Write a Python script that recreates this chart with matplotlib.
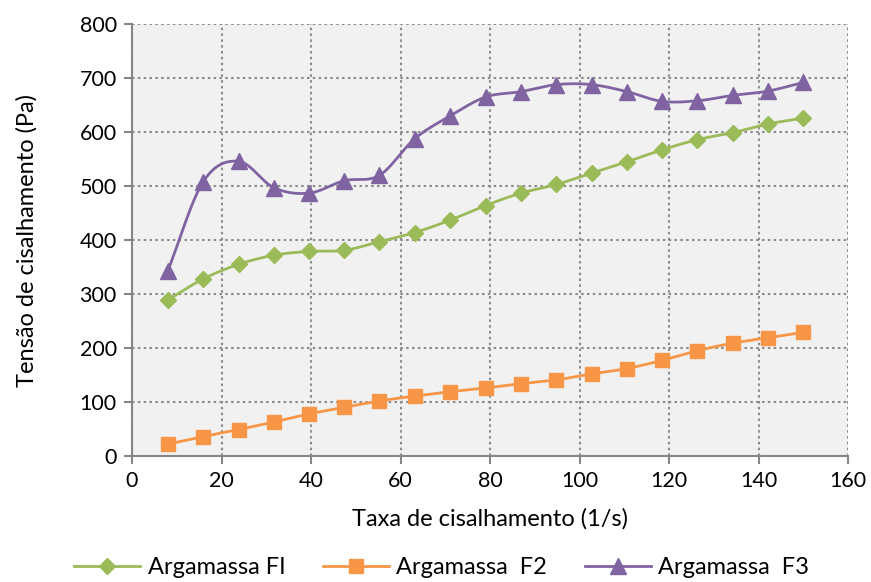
import numpy as np
import matplotlib
matplotlib.use("Agg")
import matplotlib.pyplot as plt

plt.rcParams['font.family'] = ['Lato', 'DejaVu Sans']

taxa = [8, 15.9, 23.8, 31.7, 39.6, 47.4, 55.3, 63.2, 71.1, 79, 86.9, 94.8,
        102.7, 110.6, 118.4, 126.3, 134.2, 142.1, 150]
f1 = [289, 328, 355, 372, 379, 381, 397, 414, 437, 464, 487, 503, 524, 545,
      567, 586, 599, 615, 626]
f2 = [22, 36, 49, 63, 78, 90, 102, 111, 119, 126, 134, 141, 152, 162, 177,
      195, 209, 219, 229]
f3 = [343, 508, 546, 497, 487, 510, 520, 588, 630, 665, 675, 688, 688, 675,
      657, 658, 668, 676, 692]


def smooth(x, y, n=12):
    # Catmull-Rom like Excel "smoothed line"
    x = np.asarray(x, float)
    y = np.asarray(y, float)
    px = np.concatenate([[2 * x[0] - x[1]], x, [2 * x[-1] - x[-2]]])
    py = np.concatenate([[2 * y[0] - y[1]], y, [2 * y[-1] - y[-2]]])
    t = np.linspace(0, 1, n, endpoint=False)
    xs, ys = [], []
    for i in range(1, len(px) - 2):
        for arr, out in ((px, xs), (py, ys)):
            p0, p1, p2, p3 = arr[i - 1:i + 3]
            out.extend(0.5 * (2 * p1 + (-p0 + p2) * t
                              + (2 * p0 - 5 * p1 + 4 * p2 - p3) * t ** 2
                              + (-p0 + 3 * p1 - 3 * p2 + p3) * t ** 3))
    xs.append(x[-1])
    ys.append(y[-1])
    return xs, ys


fig = plt.figure(figsize=(8.71, 5.82), dpi=100)
ax = fig.add_axes([0.1516, 0.2165, 0.822, 0.742])
ax.set_facecolor('#f1f1f1')

series = [
    (f1, '#9bbb59', 'D', 8, 'Argamassa FI'),
    (f2, '#f79646', 's', 10, 'Argamassa  F2'),
    (f3, '#8064a2', '^', 11, 'Argamassa  F3'),
]
for vals, col, mk, ms, lab in series:
    sx, sy = smooth(taxa, vals)
    ax.plot(sx, sy, color=col, lw=2, zorder=3)
    ax.plot(taxa, vals, linestyle='none', marker=mk, ms=ms, color=col, zorder=4)
    ax.plot([], [], color=col, lw=2, marker=mk, ms=ms, label=lab)

ax.set_xlim(0, 160)
ax.set_ylim(0, 800)
ax.set_xticks(range(0, 161, 20))
ax.set_yticks(range(0, 801, 100))
ax.grid(True, color='#8c8c8c', linestyle=(0, (1.2, 1.6)), lw=1.5)
ax.set_axisbelow(True)
for s in ('top', 'right'):
    ax.spines[s].set_visible(False)
for s in ('left', 'bottom'):
    ax.spines[s].set_color('#868686')
    ax.spines[s].set_linewidth(1.5)
ax.tick_params(direction='out', length=6, width=1.5, color='#868686',
               labelsize=15.5, pad=5)

ax.set_xlabel('Taxa de cisalhamento (1/s)', fontsize=17, labelpad=12)
ax.set_ylabel('Tensão de cisalhamento (Pa)', fontsize=17, labelpad=30)

handles, labels = ax.get_legend_handles_labels()
fig.legend(handles, labels, loc='lower center', ncol=3, frameon=False,
           fontsize=17, bbox_to_anchor=(0.507, -0.03), handlelength=2.8,
           columnspacing=1.6, handletextpad=0.3)

fig.savefig('out.png', dpi=100)
